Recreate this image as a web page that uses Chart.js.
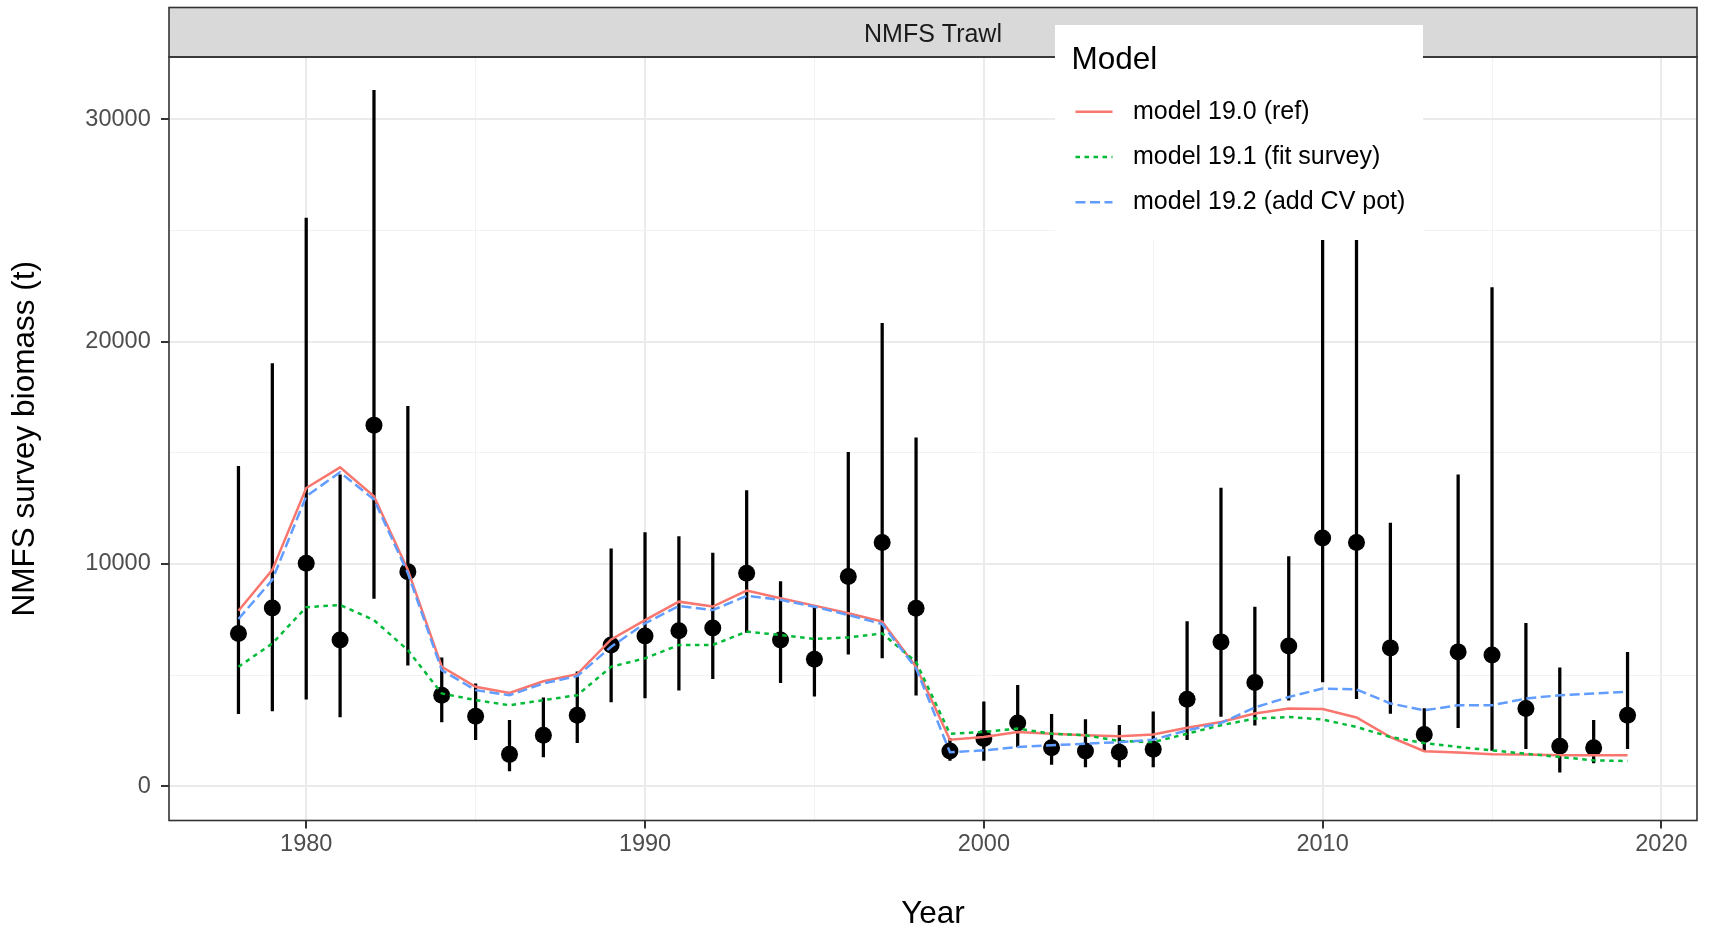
<!DOCTYPE html>
<html>
<head>
<meta charset="utf-8">
<title>NMFS Trawl</title>
<script src="https://cdn.jsdelivr.net/npm/chart.js@4.4.1/dist/chart.umd.min.js"></script>
<style>
html,body{margin:0;padding:0;background:#fff;}
#wrap{width:1709px;height:937px;}
</style>
</head>
<body>
<div id="wrap"><canvas id="biomassChart" width="1709" height="937"></canvas></div>
<script>
/* =========================
DATA
========================= */

const years = [
  1978,1979,1980,1981,1982,1983,1984,1985,1986,1987,
  1988,1989,1990,1991,1992,1993,1994,1995,1996,1997,
  1998,1999,2000,2001,2002,2003,2004,2005,2006,2007,
  2008,2009,2010,2011,2012,2013,2014,2015,2016,2017,
  2018,2019
];

// observed survey biomass (t) and its interval
const obsBiomass = [
  6870,8010,10030,6570,16240,9650,4090,3140,1430,2290,
  3190,6350,6750,6990,7110,9580,6570,5710,9430,10960,
  8000,1580,2140,2840,1730,1580,1530,1660,3910,6490,
  4660,6300,11160,10960,6220,2320,6040,5900,3490,1790,
  1730,3190
];

const obsLower = [
  3260,3380,3910,3110,8450,5440,2890,2090,680,1310,
  1960,3790,3970,4320,4840,6920,4650,4050,5940,5770,
  4090,1160,1160,1760,980,860,860,860,2090,3140,
  2740,3870,4690,3940,3270,1580,2630,1610,1690,630,
  1040,1690
];

const obsUpper = [
  14390,19010,25550,14010,31300,17090,5770,4600,2960,3970,
  5140,10680,11410,11230,10480,13300,9200,8050,15020,20820,
  15670,2150,3790,4540,3230,3000,2740,3340,7400,13410,
  8050,10330,26000,26000,11830,3490,14010,22430,7320,5320,
  2960,6020
];

// model fits
const model190 = [
  7890,9730,13410,14340,13040,9730,5370,4470,4190,4720,
  5040,6600,7470,8300,8080,8800,8450,8120,7780,7400,
  5370,2090,2210,2440,2360,2290,2240,2320,2630,2890,
  3270,3490,3470,3090,2210,1570,1510,1430,1420,1390,
  1390,1390
];

const model191 = [
  5370,6420,8050,8150,7470,6120,4170,3870,3640,3870,
  4090,5370,5750,6350,6350,6950,6800,6620,6690,6870,
  5590,2360,2440,2590,2360,2290,2030,1980,2360,2740,
  3040,3110,3000,2660,2210,1940,1760,1610,1460,1310,
  1160,1130
];

const model192 = [
  7520,9280,13040,14120,12890,9580,5220,4320,4090,4620,
  4950,6270,7320,8110,7920,8560,8380,8070,7700,7290,
  5300,1530,1610,1760,1840,1910,1980,2090,2510,2840,
  3540,4010,4390,4350,3720,3410,3640,3640,3940,4090,
  4170,4240
];

const seriesNames = [
  "model 19.0 (ref)",
  "model 19.1 (fit survey)",
  "model 19.2 (add CV pot)"
];

// ticks
const xMajor = [1980,1990,2000,2010,2020];
const xMinor = [1985,1995,2005,2015];
const yMajor = [0,10000,20000,30000];
const yMinor = [5000,15000,25000];

const panelTitle = "NMFS Trawl";
const legendTitle = "Model";

/* =========================
HELPERS
========================= */

const FONT = "'Liberation Sans', Arial, sans-serif";

Chart.defaults.font.family = FONT;

function toXY(values){
  return years.map(function(y,i){
    return {x:y, y:values[i]};
  });
}

function toRange(lo,hi){
  return years.map(function(y,i){
    return {x:y, y:[lo[i],hi[i]]};
  });
}

function tickList(a,b){
  return a.concat(b).sort(function(p,q){return p-q;})
  .map(function(v){return {value:v};});
}

function isMajor(list,c){
  return c.tick && list.indexOf(c.tick.value) !== -1;
}

/* =========================
PANEL DECOR (strip, border, legend)
========================= */

const panelDecor = {

  id:"panelDecor",

  beforeDraw(chart){
    const ctx = chart.ctx;
    const a = chart.chartArea;
    ctx.save();
    ctx.fillStyle = "#ffffff";
    ctx.fillRect(0,0,chart.width,chart.height);
    // strip
    ctx.fillStyle = "#D9D9D9";
    ctx.fillRect(a.left,7.5,a.right-a.left,a.top-7.5);
    ctx.restore();
  },

  afterDatasetsDraw(chart){
    const ctx = chart.ctx;
    const a = chart.chartArea;
    ctx.save();
    ctx.strokeStyle = "#333333";
    ctx.lineWidth = 1.6;
    ctx.strokeRect(a.left,7.5,a.right-a.left,a.top-7.5);
    ctx.strokeRect(a.left,a.top,a.right-a.left,a.bottom-a.top);
    ctx.fillStyle = "#1A1A1A";
    ctx.font = "25px " + FONT;
    ctx.textAlign = "center";
    ctx.textBaseline = "alphabetic";
    ctx.fillText(panelTitle,(a.left+a.right)/2,41.7);
    ctx.restore();
  },

  afterDraw(chart){
    const ctx = chart.ctx;
    const box = {x:1055, y:25, w:368, h:215};
    ctx.save();
    ctx.fillStyle = "#ffffff";
    ctx.fillRect(box.x,box.y,box.w,box.h);

    ctx.fillStyle = "#000000";
    ctx.textAlign = "left";
    ctx.textBaseline = "alphabetic";
    ctx.font = "31.5px " + FONT;
    ctx.fillText(legendTitle,box.x+16.5,69);

    const lines = chart.data.datasets.filter(function(d){
      return d.legendRow !== undefined;
    });

    ctx.font = "25px " + FONT;
    ctx.textBaseline = "middle";

    lines.forEach(function(d){
      const cy = 111.7 + d.legendRow*45.3;
      ctx.strokeStyle = d.borderColor;
      ctx.lineWidth = d.borderWidth;
      ctx.setLineDash(d.borderDash);
      ctx.beginPath();
      ctx.moveTo(box.x+20.5,cy);
      ctx.lineTo(box.x+57.5,cy);
      ctx.stroke();
      ctx.setLineDash([]);
      ctx.fillText(d.label,box.x+78,cy);
    });

    ctx.restore();
  }

};

/* =========================
CHART
========================= */

const ctx =
document.getElementById(
  "biomassChart"
);

const biomassChart =
new Chart(ctx,{

  type:"line",

  data:{

    datasets:[

      {
        type:"line",
        label:seriesNames[2],
        legendRow:2,
        data:toXY(model192),
        borderColor:"#619CFF",
        borderWidth:2.5,
        borderDash:[10,4.5],
        pointRadius:0,
        tension:0,
        fill:false,
        order:1
      },

      {
        type:"line",
        label:seriesNames[1],
        legendRow:1,
        data:toXY(model191),
        borderColor:"#00BA38",
        borderWidth:2.5,
        borderDash:[4.5,4.5],
        pointRadius:0,
        tension:0,
        fill:false,
        order:2
      },

      {
        type:"line",
        label:seriesNames[0],
        legendRow:0,
        data:toXY(model190),
        borderColor:"#F8766D",
        borderWidth:2.5,
        borderDash:[],
        pointRadius:0,
        tension:0,
        fill:false,
        order:3
      },

      {
        type:"line",
        label:"observed",
        data:toXY(obsBiomass),
        showLine:false,
        pointRadius:8.5,
        pointBackgroundColor:"#000000",
        pointBorderWidth:0,
        order:4
      },

      {
        type:"bar",
        label:"interval",
        data:toRange(obsLower,obsUpper),
        backgroundColor:"#000000",
        borderWidth:0,
        barThickness:2.6,
        grouped:false,
        order:5
      }

    ]

  },

  options:{

    responsive:false,

    animation:false,

    events:[],

    layout:{
      padding:{top:57,right:12,bottom:0,left:0}
    },

    plugins:{
      legend:{display:false},
      tooltip:{enabled:false}
    },

    scales:{

      x:{
        type:"linear",
        min:1975.95,
        max:2021.05,
        offset:false,
        afterBuildTicks:function(s){
          s.ticks = tickList(xMajor,xMinor);
        },
        afterFit:function(s){
          s.height = 116.5;
        },
        ticks:{
          autoSkip:false,
          maxRotation:0,
          padding:2,
          color:"#4D4D4D",
          font:{size:23.5},
          callback:function(v){
            return xMajor.indexOf(v) !== -1 ? String(v) : "";
          }
        },
        grid:{
          offset:false,
          color:function(c){ return isMajor(xMajor,c) ? "#EBEBEB" : "#F2F2F2"; },
          lineWidth:function(c){ return isMajor(xMajor,c) ? 2 : 1; },
          tickColor:function(c){ return isMajor(xMajor,c) ? "#333333" : "rgba(0,0,0,0)"; },
          tickWidth:2,
          tickLength:8
        },
        border:{display:false},
        title:{
          display:true,
          text:"Year",
          color:"#000000",
          font:{size:31.5},
          padding:{top:0,bottom:4}
        }
      },

      y:{
        type:"linear",
        min:-1545,
        max:32800,
        afterBuildTicks:function(s){
          s.ticks = tickList(yMajor,yMinor);
        },
        afterFit:function(s){
          s.width = 169;
        },
        ticks:{
          autoSkip:false,
          padding:10.3,
          color:"#4D4D4D",
          font:{size:23.5},
          callback:function(v){
            return yMajor.indexOf(v) !== -1 ? String(v) : "";
          }
        },
        grid:{
          offset:false,
          color:function(c){ return isMajor(yMajor,c) ? "#EBEBEB" : "#F2F2F2"; },
          lineWidth:function(c){ return isMajor(yMajor,c) ? 2 : 1; },
          tickColor:function(c){ return isMajor(yMajor,c) ? "#333333" : "rgba(0,0,0,0)"; },
          tickWidth:2,
          tickLength:8
        },
        border:{display:false},
        title:{
          display:true,
          text:"NMFS survey biomass (t)",
          color:"#000000",
          font:{size:31.5},
          padding:{top:6.9,bottom:0}
        }
      }

    }

  },

  plugins:[panelDecor]

});
</script>
</body>
</html>
